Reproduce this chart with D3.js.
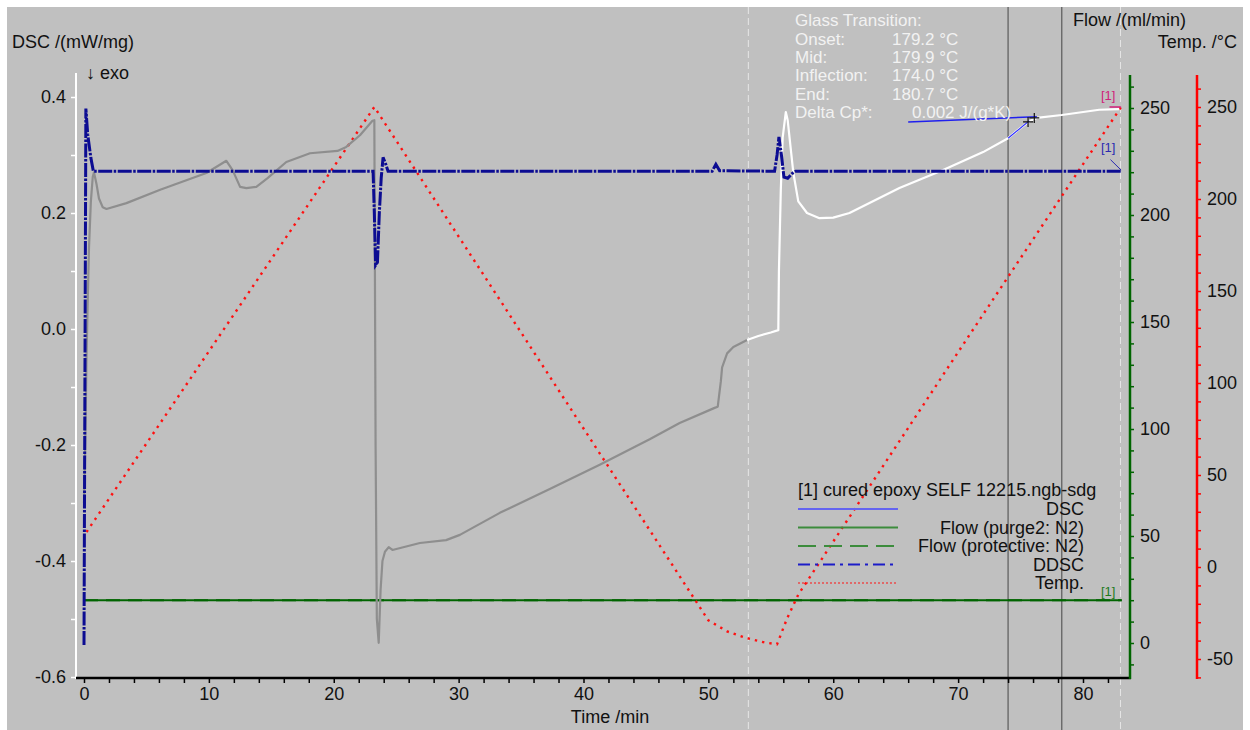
<!DOCTYPE html>
<html>
<head>
<meta charset="utf-8">
<script src="https://cdn.jsdelivr.net/npm/d3@7"></script>
<style>
body{margin:0;background:#fff;}
svg text{font-family:"Liberation Sans", Arial, sans-serif;}
</style>
</head>
<body>
<script>
// time /min , DSC /(mW/mg) -- first segments (gray)
const dscGray = [[0,-0.30],[0.1,-0.2],[0.2,-0.05],[0.3,0.05],[0.4,0.14],[0.55,0.22],[0.7,0.262],[0.8,0.27],[1.0,0.25],[1.2,0.225],[1.5,0.21],[1.8,0.207],
  [3.4,0.217],[6.1,0.24],[9.8,0.269],[11.4,0.29],[11.9,0.274],[12.5,0.245],[13.0,0.243],[13.8,0.245],[14.7,0.26],[16.2,0.288],[18.1,0.303],
  [20.3,0.307],[21.0,0.314],[22.1,0.334],[23.1,0.359],[23.25,0.36],[23.35,-0.2],[23.45,-0.5],[23.6,-0.541],[23.75,-0.45],[23.9,-0.4],
  [24.1,-0.384],[24.4,-0.376],[24.7,-0.381],[26.9,-0.369],[29,-0.364],[30.1,-0.355],[33.3,-0.317],[37.3,-0.276],[41.3,-0.234],
  [45.3,-0.19],[47.7,-0.162],[50.5,-0.136],[50.75,-0.134],[51.0,-0.09],[51.1,-0.066],[51.5,-0.042],[52,-0.031],[53.1,-0.019]];
// last heating segment (white)
const dscWhite = [[53.1,-0.019],[54,-0.012],[55,-0.006],[55.6,-0.002],[55.65,0.1],[55.8,0.24],[55.95,0.33],[56.2,0.374],[56.35,0.36],
  [56.5,0.33],[56.8,0.27],[57.2,0.22],[57.9,0.2],[58.9,0.191],[60,0.192],[61.3,0.2],[65.3,0.243],[68.8,0.274],[72,0.305],[74,0.329],
  [74.9,0.345],[75.7,0.358],[76.3,0.364],[78.3,0.369],[81.3,0.378],[82.9,0.379]];
const ddsc = [[0,-0.545],[0.15,0.38],[0.3,0.335],[0.55,0.295],[0.75,0.272],[23.15,0.272],[23.25,0.2],[23.35,0.11],[23.5,0.115],[23.65,0.2],
  [23.8,0.26],[23.95,0.296],[24.15,0.285],[24.35,0.272],[50.3,0.272],[50.6,0.284],[50.9,0.273],[55.3,0.272],[55.5,0.3],[55.65,0.331],
  [55.85,0.3],[56.05,0.262],[56.35,0.26],[56.7,0.268],[57,0.272],[83.1,0.272]];
// temperature /°C
const temp = [[0.2,19],[23.25,250],[50,-29],[51.5,-35],[53,-38.5],[54.5,-41],[55.5,-42],[56.3,-28],[57.2,-15],[70.8,125],[83.05,250]];
// flow /(ml/min)
const flowPurge = [[0,20],[83.1,20]];
const flowProtective = [[0,20],[83.1,20]];
// glass transition evaluation lines
const tgBaseline = [[66.0,0.357],[76.3,0.366]];
const tgTangent = [[74.0,0.329],[75.7,0.359]];
const tgMarks = [[75.6,0.357],[76.1,0.364]];
const markerTimes = [53.2, 74.0, 78.3, 83.0];

const timeTicks = [0,10,20,30,40,50,60,70,80];
const dscTicks = [0.4,0.2,0.0,-0.2,-0.4,-0.6];
const flowTicks = [0,50,100,150,200,250];
const tempTicks = [-50,0,50,100,150,200,250];

const glassLabels = ["Onset:","Mid:","Inflection:","End:","Delta Cp*:"];
const glassValues = ["179.2 °C","179.9 °C","174.0 °C","180.7 °C","0.002 J/(g*K)"];
const legendNames = ["DSC","Flow (purge2: N2)","Flow (protective: N2)","DDSC","Temp."];

const W = 1250, H = 730;
const AXY = 678, TOP = 73;
const svg = d3.select("body").append("svg").attr("width", W).attr("height", H);
svg.append("rect").attr("x",7).attr("y",7).attr("width",1236).attr("height",723).attr("fill","#c0c0c0");

const x = d3.scaleLinear().domain([0,80]).range([84,1083]);
const yD = d3.scaleLinear().domain([-0.6,0.4]).range([677,97]);
const yF = d3.scaleLinear().domain([0,250]).range([643,108]);
const yT = d3.scaleLinear().domain([0,250]).range([567,107]);

const near = (v,list)=>list.some(t=>Math.abs(t-v)<1e-6);

// vertical marker lines
markerTimes.forEach((t,i)=>{
  svg.append("line").attr("x1",x(t)).attr("x2",x(t)).attr("y1",7).attr("y2",H)
    .attr("stroke", (i==1||i==2) ? "#5a5a5a" : "#e6e6e6")
    .attr("stroke-width", (i==1||i==2) ? 1.2 : 1)
    .attr("stroke-dasharray", (i==1||i==2) ? null : "7,4");
});

// axes
let leftAxis = d3.axisLeft(yD).tickValues(d3.range(-6,5).map(v=>v/10)).tickSize(5).tickSizeOuter(0)
  .tickFormat(v=>near(v,dscTicks) ? v.toFixed(1) : "");
let gL = svg.append("g").attr("transform","translate(76,0)").call(leftAxis);
gL.select(".domain").remove();
svg.append("line").attr("x1",76).attr("x2",76).attr("y1",TOP).attr("y2",AXY+1).attr("stroke","#fff").attr("stroke-width",2);
gL.selectAll("line").attr("stroke","#fff").attr("stroke-width",1.5);

let bottomAxis = d3.axisBottom(x).tickValues(d3.range(0,84,2)).tickSize(5).tickSizeOuter(0)
  .tickFormat(v=>near(v,timeTicks) ? String(v) : "");
let gB = svg.append("g").attr("transform","translate(0,"+AXY+")").call(bottomAxis);
gB.select(".domain").remove();
svg.append("line").attr("x1",76).attr("x2",1131).attr("y1",AXY).attr("y2",AXY).attr("stroke","#000").attr("stroke-width",2.5);
gB.selectAll("line").attr("stroke","#000").attr("stroke-width",1.5);
gB.selectAll("text").attr("dy","0.75em");

let flowAxis = d3.axisRight(yF).tickValues(d3.range(-10,261,10)).tickSize(4).tickSizeOuter(0)
  .tickFormat(v=>near(v,flowTicks) ? String(v) : "");
let gF = svg.append("g").attr("transform","translate(1130,0)").call(flowAxis);
gF.select(".domain").remove();
svg.append("line").attr("x1",1130).attr("x2",1130).attr("y1",75).attr("y2",AXY+1).attr("stroke","#006400").attr("stroke-width",2.5);
gF.selectAll("line").attr("stroke","#006400").attr("stroke-width",1.5);

let tempAxis = d3.axisRight(yT).tickValues(d3.range(-60,261,10)).tickSize(4).tickSizeOuter(0)
  .tickFormat(v=>near(v,tempTicks) ? String(v) : "");
let gT = svg.append("g").attr("transform","translate(1197,0)").call(tempAxis);
gT.select(".domain").remove();
svg.append("line").attr("x1",1197).attr("x2",1197).attr("y1",75).attr("y2",AXY+1).attr("stroke","#ff0000").attr("stroke-width",2.5);
gT.selectAll("line").attr("stroke","#ff0000").attr("stroke-width",1.5);

[gL,gB,gF,gT].forEach(g=>g.selectAll("text").attr("fill","#111").style("font-size","18px").style("font-family","'Liberation Sans', Arial, sans-serif"));
gL.selectAll("text").attr("x",-10);
gF.selectAll("text").attr("x",10);
gT.selectAll("text").attr("x",10);

// axis titles
svg.append("text").attr("x",12).attr("y",48).text("DSC /(mW/mg)").attr("font-size",18).attr("fill","#111");
svg.append("text").attr("x",86).attr("y",79).text("\u2193 exo").attr("font-size",18).attr("fill","#111");
svg.append("text").attr("x",610).attr("y",723).attr("text-anchor","middle").text("Time /min").attr("font-size",18).attr("fill","#111");
svg.append("text").attr("x",1073).attr("y",26).text("Flow /(ml/min)").attr("font-size",18).attr("fill","#111");
svg.append("text").attr("x",1237).attr("y",48).attr("text-anchor","end").text("Temp. /°C").attr("font-size",18).attr("fill","#111");

// curves
const lineD = d3.line().x(d=>x(d[0])).y(d=>yD(d[1]));
const lineF = d3.line().x(d=>x(d[0])).y(d=>yF(d[1]));
const lineT = d3.line().x(d=>x(d[0])).y(d=>yT(d[1]));

svg.append("path").datum(flowProtective).attr("d",lineF).attr("fill","none").attr("stroke","#006400").attr("stroke-width",2).attr("stroke-dasharray","14,8");
svg.append("path").datum(flowPurge).attr("d",lineF).attr("fill","none").attr("stroke","#006400").attr("stroke-width",2);
svg.append("path").datum(temp).attr("d",lineT).attr("fill","none").attr("stroke","#ff1010").attr("stroke-width",2.4).attr("stroke-dasharray","2.4,5");
svg.append("path").datum(dscGray).attr("d",lineD).attr("fill","none").attr("stroke","#8e8e8e").attr("stroke-width",2.2).attr("stroke-linejoin","round");
svg.append("path").datum(dscWhite).attr("d",lineD).attr("fill","none").attr("stroke","#ffffff").attr("stroke-width",2.2).attr("stroke-linejoin","round");
svg.append("path").datum(ddsc).attr("d",lineD).attr("fill","none").attr("stroke","#0c0c92").attr("stroke-width",3).attr("stroke-dasharray","14,1.5,2.5,1.5");

// glass transition evaluation
svg.append("path").datum(tgBaseline).attr("d",lineD).attr("fill","none").attr("stroke","#2020ee").attr("stroke-width",1.5);
svg.append("path").datum(tgTangent).attr("d",lineD).attr("fill","none").attr("stroke","#3030ff").attr("stroke-width",1.2);
tgMarks.forEach(m=>{
  let cx=x(m[0]), cy=yD(m[1]);
  svg.append("path").attr("d",`M${cx-5},${cy}H${cx+5}M${cx},${cy-5}V${cy+5}`).attr("stroke","#111").attr("stroke-width",1.2);
});

// [1] tags
const tagFont = 13;
svg.append("text").attr("x",x(82.6)).attr("y",yT(254)).attr("text-anchor","end").attr("font-size",tagFont).attr("fill","#d0207a").text("[1]");
svg.append("line").attr("x1",x(82.6)-6).attr("x2",x(83.05)).attr("y1",yT(250)).attr("y2",yT(250)).attr("stroke","#d0207a").attr("stroke-width",1.5);
svg.append("text").attr("x",x(82.6)).attr("y",yD(0.306)).attr("text-anchor","end").attr("font-size",tagFont).attr("fill","#2a2ab0").text("[1]");
svg.append("line").attr("x1",x(82.6)-5).attr("x2",x(83.05)).attr("y1",yD(0.292)).attr("y2",yD(0.274)).attr("stroke","#2a2ab0").attr("stroke-width",1);
svg.append("text").attr("x",x(82.6)).attr("y",yF(22)).attr("text-anchor","end").attr("font-size",tagFont).attr("fill","#1c7a1c").text("[1]");

// glass transition text
const gt = svg.append("g").attr("fill","#f2f2f2").attr("font-size",17);
gt.append("text").attr("x",795).attr("y",26).text("Glass Transition:");
glassLabels.forEach((l,i)=>{
  gt.append("text").attr("x",795).attr("y",44.5+i*18.4).text(l);
  gt.append("text").attr("x", i==4 ? 912 : 892).attr("y",44.5+i*18.4).text(glassValues[i]);
});

// legend
const lg = svg.append("g");
lg.append("text").attr("x",798).attr("y",496).attr("font-size",18).attr("fill","#111").text("[1] cured epoxy SELF 12215.ngb-sdg");
const legStyles = [
  {c:"#6464f0",w:2,d:null},
  {c:"#3c8c3c",w:2,d:null},
  {c:"#3c8c3c",w:2,d:"18,8"},
  {c:"#1c1cc8",w:2,d:"12,5,3,5"},
  {c:"#ff1010",w:1,d:"2,2"}
];
legendNames.forEach((n,i)=>{
  let yy = 509 + i*18.5;
  lg.append("line").attr("x1",798).attr("x2",898).attr("y1",yy).attr("y2",yy)
    .attr("stroke",legStyles[i].c).attr("stroke-width",legStyles[i].w).attr("stroke-dasharray",legStyles[i].d);
  lg.append("text").attr("x",1084).attr("y",yy+6).attr("text-anchor","end").attr("font-size",18).attr("fill","#111").text(n);
});
</script>
</body>
</html>
